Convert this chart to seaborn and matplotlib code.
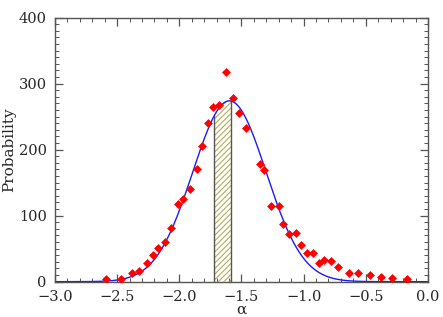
import numpy as np
import pandas as pd
import matplotlib
matplotlib.use("Agg")
import matplotlib.pyplot as plt
import seaborn as sns
from matplotlib.ticker import MultipleLocator

# puntos medidos (alpha, probabilidad)
alpha = [-2.59, -2.47, -2.383, -2.321, -2.257, -2.213, -2.171, -2.114, -2.066, -2.012,
         -1.967, -1.911, -1.854, -1.814, -1.766, -1.726, -1.677, -1.623, -1.572, -1.521,
         -1.46, -1.355, -1.32, -1.261, -1.199, -1.164, -1.12, -1.065, -1.022, -0.969,
         -0.927, -0.877, -0.837, -0.778, -0.724, -0.639, -0.56, -0.464, -0.381, -0.287,
         -0.166]
prob = [4, 3.6, 12.7, 15.7, 28, 41, 51.5, 60, 82, 117,
        125, 141, 170, 205, 241, 265, 268, 318, 279, 256,
        233, 179, 169, 115, 114, 88, 73, 74, 56, 43.5,
        44, 29, 33, 31, 22, 13.6, 13, 10, 7.6, 6,
        3.6]

# ajuste gaussiano
amp = 274.0
mu = -1.597
sigma = 0.295

# intervalo sombreado
band_lo = -1.72
band_hi = -1.585

df = pd.DataFrame({"alpha": alpha, "prob": prob})
xs = np.linspace(-3.0, 0.0, 600)
fit = pd.DataFrame({"alpha": xs, "prob": amp * np.exp(-(xs - mu) ** 2 / (2 * sigma ** 2))})

sns.set_style("ticks")
plt.rcParams["font.family"] = ["DejaVu Serif"]

fig = plt.figure(figsize=(4.43, 3.17), dpi=100)
ax = fig.add_axes([0.1242, 0.1114, 0.8418, 0.8328])

# banda rayada bajo la curva
xb = np.linspace(band_lo, band_hi, 50)
yb = amp * np.exp(-(xb - mu) ** 2 / (2 * sigma ** 2))
plt.rcParams["hatch.linewidth"] = 0.8
ax.fill_between(xb, 0, yb, facecolor="none", edgecolor="#b5ad5a", hatch="//////", linewidth=0)
for xv, yv in [(band_lo, yb[0]), (band_hi, yb[-1])]:
    ax.plot([xv, xv], [0, yv], color="#555555", lw=1.0)

sns.lineplot(data=fit, x="alpha", y="prob", ax=ax, color="#1a1aff", lw=1.0)
sns.scatterplot(data=df, x="alpha", y="prob", ax=ax, color="red", marker="D",
                s=16, edgecolor="red", linewidth=0.5, zorder=5)

ax.set_xlim(-3.0, 0.0)
ax.set_ylim(0, 400)
ax.xaxis.set_major_locator(MultipleLocator(0.5))
ax.xaxis.set_minor_locator(MultipleLocator(0.1))
ax.yaxis.set_major_locator(MultipleLocator(100))
ax.yaxis.set_minor_locator(MultipleLocator(10))
ax.tick_params(which="both", direction="in", top=True, right=True, color="#555555")
ax.tick_params(which="major", length=6, width=0.9, labelsize=10.5, pad=6)
ax.tick_params(which="minor", length=3, width=0.7)
for s in ax.spines.values():
    s.set_color("#555555")
    s.set_linewidth(1.0)

ax.set_xlabel("α", fontsize=11, labelpad=-1)
ax.set_ylabel("Probability", fontsize=11, labelpad=2)

fig.savefig("out.png", dpi=100)
